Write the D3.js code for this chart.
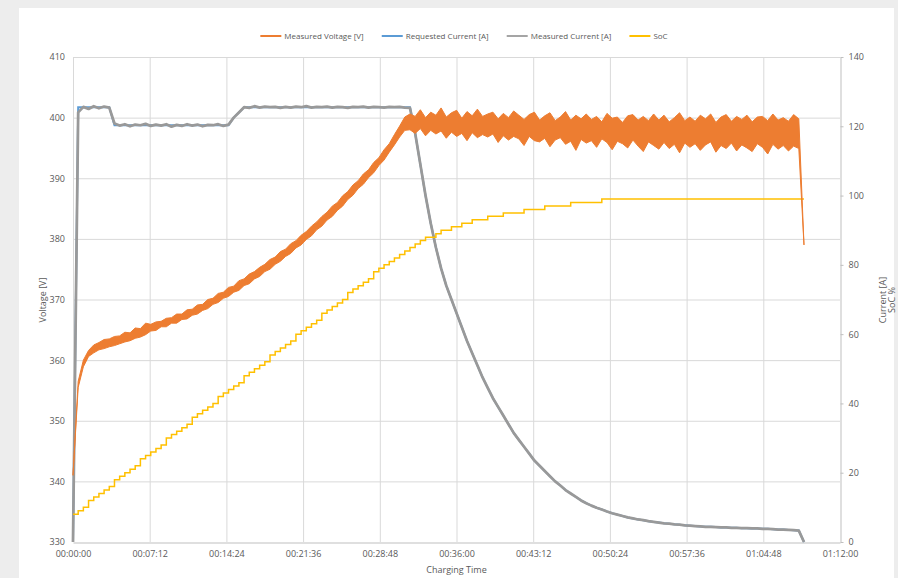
<!DOCTYPE html>
<html>
<head>
<meta charset="utf-8">
<script src="https://cdn.jsdelivr.net/npm/d3@7"></script>
<style>
  html, body { margin: 0; padding: 0; background: #ededed; }
  svg { display: block; }
  text { font-family: "Open Sans", "Liberation Sans", sans-serif; fill: #595959; }
</style>
</head>
<body>
<div id="chart"></div>
<script>
// logger samples every ~29 s, all series share that grid
const sampleStepSec = 29.2;

// voltage is very noisy, so it is kept as min / max per sample
const voltageMax = [
  341, 356.5, 360, 361.6, 362.5, 362.9, 363.4, 363.5, 363.9, 364.0,
  364.6, 364.5, 365.3, 365.2, 366.1, 365.9, 366.3, 366.4, 366.9, 367.0,
  367.6, 367.6, 368.3, 368.4, 369.1, 369.2, 370.0, 370.2, 371.0, 371.2,
  372.0, 372.2, 373.1, 373.4, 374.2, 374.6, 375.3, 375.8, 376.6, 377.0,
  377.9, 378.3, 379.2, 379.7, 380.6, 381.2, 382.1, 382.8, 383.7, 384.4,
  385.4, 386.0, 387.1, 387.8, 388.9, 389.6, 390.7, 391.4, 392.6, 393.4,
  394.7, 395.7, 397.2, 398.6, 400.1, 400.6, 400.2, 401.3, 400.0, 400.9,
  400.4, 401.6, 400.1, 400.8, 401.2, 399.9, 401.0, 400.3, 401.4, 400.2,
  400.6, 400.9, 399.8, 400.7, 400.0, 401.1, 400.4, 399.7, 400.5, 400.9,
  399.6, 400.3, 400.8, 399.5, 400.1, 401.0, 399.6, 400.4, 399.8, 400.6,
  399.7, 400.2, 399.3, 400.7, 399.9, 400.1, 399.2, 400.3, 400.5, 399.6,
  400.2, 399.5, 400.6, 399.6, 400.4, 399.3, 400.0, 400.8, 399.5, 400.1,
  399.4, 400.4, 399.8, 400.6, 399.2, 400.1, 400.5, 399.4, 400.2, 399.7,
  400.4, 399.3, 400.1, 400.2, 399.5, 400.6, 399.6, 400.0, 399.4, 400.5,
  399.8, 379
];

const voltageMin = [
  341, 355.5, 358.9, 360.6, 361.2, 361.7, 361.9, 362.2, 362.4, 362.7,
  363.0, 363.2, 363.6, 363.8, 364.2, 364.8, 364.9, 365.5, 365.5, 366.1,
  366.1, 366.7, 366.8, 367.4, 367.6, 368.2, 368.5, 369.2, 369.5, 370.2,
  370.5, 371.2, 371.5, 372.3, 372.6, 373.4, 373.8, 374.6, 375.0, 375.8,
  376.3, 377.1, 377.6, 378.5, 379.0, 379.9, 380.5, 381.5, 382.1, 383.1,
  383.7, 384.7, 385.4, 386.5, 387.2, 388.3, 389.0, 390.1, 390.9, 392.1,
  393.0, 394.3, 395.5, 396.8, 397.9, 398.0, 397.4, 398.2, 397.0, 397.9,
  397.3, 397.8, 396.6, 397.6, 396.9, 397.4, 396.2, 397.5, 396.7, 397.2,
  396.8, 397.3, 395.9, 397.0, 396.3, 396.9, 396.5, 395.4, 396.9, 396.2,
  396.0, 396.6, 395.2, 396.3, 396.7, 395.6, 396.1, 394.6, 396.4, 395.8,
  396.2, 395.1, 396.5, 395.9, 394.7, 396.1, 395.7, 395.0, 396.3, 395.3,
  394.4, 396.0, 395.4, 394.8, 395.9, 394.9, 395.6, 394.2, 395.8, 395.1,
  395.7, 394.6, 395.5, 396.0, 394.3, 395.4, 394.9, 395.8, 394.5, 395.5,
  395.0, 394.4, 395.7, 395.1, 394.0, 395.6, 394.8, 395.4, 394.5, 395.3,
  394.9, 379
];

const requestedCurrent = [
  0, 125.5, 125.5, 125.5, 125.5, 125.5, 125.5, 125.5, 120.3, 120.3,
  120.3, 120.3, 120.3, 120.3, 120.3, 120.3, 120.3, 120.3, 120.3, 120.3,
  120.3, 120.3, 120.3, 120.3, 120.3, 120.3, 120.3, 120.3, 120.3, 120.3,
  120.3, 122.5, 124.0, 125.5, 125.5, 125.5, 125.5, 125.5, 125.5, 125.5,
  125.5, 125.5, 125.5, 125.5, 125.5, 125.5, 125.5, 125.5, 125.5, 125.5,
  125.5, 125.5, 125.5, 125.5, 125.5, 125.5, 125.5, 125.5, 125.5, 125.5,
  125.5, 125.5, 125.5, 125.5, 125.5, 125.5, 118, 109, 100, 92,
  85, 79, 74, 70, 66, 62, 58, 54.5, 51, 47.5,
  44.5, 41.5, 39, 36.5, 34, 31.5, 29.5, 27.5, 25.5, 23.5,
  22, 20.5, 19, 17.5, 16.3, 15, 14, 13, 12, 11.2,
  10.5, 9.9, 9.4, 8.8, 8.3, 7.9, 7.5, 7.1, 6.8, 6.5,
  6.3, 6.0, 5.8, 5.6, 5.4, 5.3, 5.1, 5.0, 4.8, 4.7,
  4.6, 4.5, 4.4, 4.4, 4.3, 4.2, 4.2, 4.1, 4.1, 4.0,
  4.0, 3.9, 3.9, 3.8, 3.8, 3.7, 3.6, 3.6, 3.5, 3.4,
  3.3, 0
];

const measuredCurrent = [
  0, 124, 125.6, 125.0, 125.8, 125.2, 125.7, 125.4, 120.8, 120.2,
  120.6, 120.0, 120.5, 120.3, 120.7, 120.1, 120.5, 120.2, 120.6, 119.9,
  120.4, 120.1, 120.6, 120.2, 120.5, 120.0, 120.4, 120.3, 120.6, 120.1,
  120.5, 122.5, 124.0, 125.5, 125.3, 125.8, 125.4, 125.7, 125.5, 125.6,
  125.3, 125.6, 125.4, 125.7, 125.5, 125.8, 125.4, 125.6, 125.5, 125.7,
  125.4, 125.6, 125.5, 125.3, 125.6, 125.5, 125.7, 125.4, 125.6, 125.5,
  125.4, 125.6, 125.5, 125.6, 125.4, 125.3, 118, 109, 100, 92,
  85, 79, 74, 70, 66, 62, 58, 54.5, 51, 47.5,
  44.5, 41.5, 39, 36.5, 34, 31.5, 29.5, 27.5, 25.5, 23.5,
  22, 20.5, 19, 17.5, 16.3, 15, 14, 13, 12, 11.2,
  10.5, 9.9, 9.4, 8.8, 8.3, 7.9, 7.5, 7.1, 6.8, 6.5,
  6.3, 6.0, 5.8, 5.6, 5.4, 5.3, 5.1, 5.0, 4.8, 4.7,
  4.6, 4.5, 4.4, 4.4, 4.3, 4.2, 4.2, 4.1, 4.1, 4.0,
  4.0, 3.9, 3.9, 3.8, 3.8, 3.7, 3.6, 3.6, 3.5, 3.4,
  3.3, 0
];

const soc = [
  8, 9, 10, 12, 13, 14, 15, 16, 18, 19,
  20, 21, 22, 24, 25, 26, 27, 28, 30, 31,
  32, 33, 34, 36, 37, 38, 39, 40, 42, 43,
  44, 45, 46, 48, 49, 50, 51, 52, 54, 55,
  56, 57, 58, 60, 61, 62, 63, 64, 66, 67,
  68, 69, 70, 72, 73, 74, 75, 76, 78, 79,
  80, 81, 82, 83, 84, 85, 86, 87, 88, 88,
  89, 90, 90, 91, 91, 92, 92, 93, 93, 93,
  94, 94, 94, 95, 95, 95, 95, 96, 96, 96,
  96, 97, 97, 97, 97, 97, 98, 98, 98, 98,
  98, 98, 99, 99, 99, 99, 99, 99, 99, 99,
  99, 99, 99, 99, 99, 99, 99, 99, 99, 99,
  99, 99, 99, 99, 99, 99, 99, 99, 99, 99,
  99, 99, 99, 99, 99, 99, 99, 99, 99, 99,
  99, 99
];

const timeTicksSec = [0, 432, 864, 1296, 1728, 2160, 2592, 3024, 3456, 3888, 4320];
const voltageTicks = [330, 340, 350, 360, 370, 380, 390, 400, 410];
const currentTicks = [0, 20, 40, 60, 80, 100, 120, 140];
const legendLabels = ["Measured Voltage [V]", "Requested Current [A]", "Measured Current [A]", "SoC"];
const colors = ["#ed7d31", "#5b9bd5", "#a5a5a5", "#ffc000"];

const width = 898, height = 578;
const plot = { left: 73, right: 840, top: 57, bottom: 542 };

const svg = d3.select("#chart").append("svg")
  .attr("width", width)
  .attr("height", height);

// page background + white chart card
svg.append("rect").attr("width", width).attr("height", height).attr("fill", "#ededed");
svg.append("rect").attr("x", 19).attr("y", 8).attr("width", 875).attr("height", 570).attr("fill", "#ffffff");

const x = d3.scaleLinear().domain([0, 4320]).range([plot.left, plot.right]);
const yV = d3.scaleLinear().domain([330, 410]).range([plot.bottom, plot.top]);
const yA = d3.scaleLinear().domain([0, 140]).range([plot.bottom, plot.top]);

const fmtTime = s => {
  const h = Math.floor(s / 3600), m = Math.floor((s % 3600) / 60), sec = Math.round(s % 60);
  return [h, m, sec].map(v => String(v).padStart(2, "0")).join(":");
};

// gridlines
svg.append("g").selectAll("line")
  .data(voltageTicks.slice(1))
  .join("line")
  .attr("x1", plot.left).attr("x2", plot.right)
  .attr("y1", d => yV(d) + 0.5).attr("y2", d => yV(d) + 0.5)
  .attr("stroke", "#d9d9d9");

svg.append("g").selectAll("line")
  .data(timeTicksSec.slice(0, -1))
  .join("line")
  .attr("x1", d => x(d) + 0.5).attr("x2", d => x(d) + 0.5)
  .attr("y1", plot.top).attr("y2", plot.bottom)
  .attr("stroke", "#d9d9d9");

// axes
const xAxis = svg.append("g")
  .attr("transform", `translate(0,${plot.bottom + 0.5})`)
  .call(d3.axisBottom(x).tickValues(timeTicksSec).tickFormat(fmtTime).tickSize(0).tickPadding(8));
xAxis.select(".domain").attr("stroke", "#bfbfbf");

const yAxisL = svg.append("g")
  .attr("transform", `translate(${plot.left},0)`)
  .call(d3.axisLeft(yV).tickValues(voltageTicks).tickSize(0).tickPadding(8));
yAxisL.select(".domain").remove();

const yAxisR = svg.append("g")
  .attr("transform", `translate(${plot.right + 0.5},0)`)
  .call(d3.axisRight(yA).tickValues(currentTicks).tickSize(3).tickSizeOuter(0).tickPadding(5));
yAxisR.select(".domain").attr("stroke", "#bfbfbf");
yAxisR.selectAll(".tick line").attr("stroke", "#bfbfbf");

svg.selectAll(".tick text").attr("font-size", 9).attr("fill", "#595959");
svg.selectAll("g[font-family]").attr("font-family", null);

// series
const tAt = i => x(i * sampleStepSec);
const lineA = d3.line().x((d, i) => tAt(i)).y(d => yA(d));
const lineSoc = d3.line().x((d, i) => tAt(i)).y(d => yA(d)).curve(d3.curveStepAfter);
const areaV = d3.area()
  .x((d, i) => tAt(i))
  .y0((d, i) => yV(voltageMin[i]))
  .y1((d, i) => yV(voltageMax[i]));

svg.append("path").datum(requestedCurrent)
  .attr("d", lineA).attr("fill", "none")
  .attr("stroke", colors[1]).attr("stroke-width", 2);

svg.append("path").datum(measuredCurrent)
  .attr("d", lineA).attr("fill", "none")
  .attr("stroke", "#999999").attr("stroke-width", 2.75)
  .attr("stroke-linejoin", "round");

svg.append("path").datum(soc)
  .attr("d", lineSoc).attr("fill", "none")
  .attr("stroke", colors[3]).attr("stroke-width", 1.5);

svg.append("path").datum(voltageMax)
  .attr("d", areaV)
  .attr("fill", colors[0])
  .attr("stroke", colors[0]).attr("stroke-width", 1)
  .attr("stroke-linejoin", "round");

// axis titles
svg.append("text")
  .attr("transform", "translate(46,300) rotate(-90)")
  .attr("text-anchor", "middle")
  .attr("font-size", 9)
  .text("Voltage [V]");

svg.append("text")
  .attr("transform", "translate(886,300) rotate(-90)")
  .attr("text-anchor", "middle")
  .attr("font-size", 9)
  .text("Current [A]");

svg.append("text")
  .attr("transform", "translate(895,300) rotate(-90)")
  .attr("text-anchor", "middle")
  .attr("font-size", 9)
  .text("SoC %");

svg.append("text")
  .attr("x", (plot.left + plot.right) / 2)
  .attr("y", 573)
  .attr("text-anchor", "middle")
  .attr("font-size", 9)
  .text("Charging Time");

// legend
const legend = svg.append("g");
const legendY = 36;
let lx = 0;
legendLabels.forEach((label, i) => {
  const item = legend.append("g").attr("transform", `translate(${lx},0)`);
  item.append("line")
    .attr("x1", 0).attr("x2", 21)
    .attr("y1", legendY).attr("y2", legendY)
    .attr("stroke", colors[i]).attr("stroke-width", 2);
  const t = item.append("text")
    .attr("x", 24).attr("y", legendY).attr("dy", "0.35em")
    .attr("font-size", 8)
    .text(label);
  lx += 24 + t.node().getComputedTextLength() + 18;
});
const legendW = lx - 18;
legend.attr("transform", `translate(${464 - legendW / 2},0)`);
</script>
</body>
</html>
